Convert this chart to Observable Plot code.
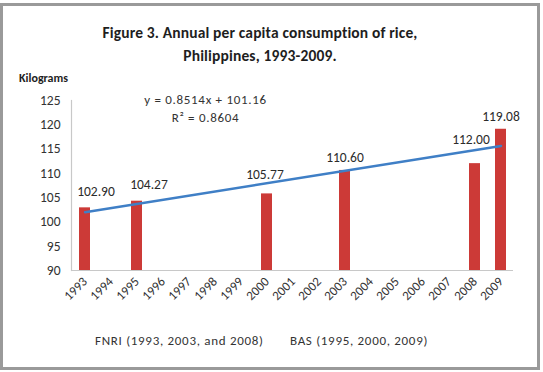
<!DOCTYPE html>
<html>
<head>
<meta charset="utf-8">
<script src="https://cdn.jsdelivr.net/npm/d3@7"></script>
<script src="https://cdn.jsdelivr.net/npm/@observablehq/plot@0.6"></script>
<style>
  html, body { margin: 0; padding: 0; background: #fff; }
  body { width: 543px; height: 372px; position: relative; overflow: hidden;
         font-family: Carlito, Lato, "Open Sans", sans-serif; color: #2b2b2b; }
  .frame { position: absolute; left: 0; top: 3px; width: 534px; height: 361px;
           border: 3px solid #9a9a9a; box-sizing: content-box; }
  .title { position: absolute; left: 0; width: 520px; top: 21px; text-align: center;
           font-weight: bold; font-size: 15.5px; line-height: 23px; color: #1e1e1e;
           letter-spacing: 0.15px; }
  .unit { position: absolute; left: 19px; top: 71px; font-weight: bold; font-size: 12px; color: #1e1e1e; }
  .note { position: absolute; top: 333px; font-size: 13px; letter-spacing: 0.7px; color: #333; }
  #chart { position: absolute; left: 0; top: 0; }
</style>
</head>
<body>
<div class="frame"></div>
<div class="title">Figure 3. Annual per capita consumption of rice,<br>Philippines, 1993-2009.</div>
<div class="unit">Kilograms</div>
<div class="note" style="left:95px">FNRI (1993, 2003, and 2008)</div>
<div class="note" style="left:290px">BAS (1995, 2000, 2009)</div>
<div id="chart"></div>
<script>
// Survey years on the category axis
const years = ["1993","1994","1995","1996","1997","1998","1999","2000","2001",
               "2002","2003","2004","2005","2006","2007","2008","2009"];
// Years with a survey value (FNRI and BAS)
const surveyYears = ["1993","1995","2000","2003","2008","2009"];
const consumption = [102.90, 104.27, 105.77, 110.60, 112.00, 119.08];
// Linear trend as printed on the chart: y = 0.8514x + 101.16, x = category index
const trendSlope = 0.8514;
const trendIntercept = 101.16;
const trendR2 = "0.8604";
const yTicks = [90, 95, 100, 105, 110, 115, 120, 125];

const bars = surveyYears.map((year, i) => ({year, value: consumption[i]}));
const trend = [years[0], years[years.length - 1]].map(year => ({
  year, value: trendSlope * (years.indexOf(year) + 1) + trendIntercept
}));

// label placement tweaks (pixels), as the spreadsheet laid them out
const labelShift = {"1993": [11, -12], "1995": [12, -12], "2000": [-2, -15],
                    "2003": [0, -8], "2008": [-4, -20], "2009": [0, -8]};

const chart = Plot.plot({
  width: 543,
  height: 372,
  marginLeft: 71,
  marginRight: 30,
  marginTop: 100,
  marginBottom: 102,
  style: {fontFamily: "Carlito, Lato, 'Open Sans', sans-serif", color: "#333", background: "transparent"},
  x: {type: "band", domain: years, paddingInner: 0.58, paddingOuter: 0.29, label: null},
  y: {domain: [90, 125], label: null},
  marks: [
    Plot.axisY({ticks: yTicks, tickSize: 0, tickPadding: 11, fontSize: 13.5, label: null}),
    Plot.axisX({tickSize: 0, tickPadding: 9, tickRotate: -45, fontSize: 13, label: null}),
    Plot.frame({anchor: "left", stroke: "#c8c8c8", strokeWidth: 1.2}),
    Plot.ruleY([90], {stroke: "#c8c8c8", strokeWidth: 1.2}),
    Plot.barY(bars, {x: "year", y1: 90, y2: "value", fill: "#cc3a37"}),
    Plot.line(trend, {x: "year", y: "value", stroke: "#3f7fc6", strokeWidth: 2.5}),
    ...bars.map(d => Plot.text([d], {
      x: "year", y: "value", text: v => v.value.toFixed(2),
      lineAnchor: "bottom", dx: labelShift[d.year][0], dy: labelShift[d.year][1],
      fontSize: 13.5, fill: "#2b2b2b"
    })),
    Plot.text([`y = ${trendSlope}x + ${trendIntercept}`], {
      frameAnchor: "top-left", dx: 134, dy: -1, lineAnchor: "middle", textAnchor: "middle",
      fontSize: 13, fill: "#333"
    }),
    Plot.text([`R² = ${trendR2}`], {
      frameAnchor: "top-left", dx: 134, dy: 17, lineAnchor: "middle", textAnchor: "middle",
      fontSize: 13, fill: "#333"
    })
  ]
});
chart.querySelectorAll("text").forEach(t => {
  if (t.textContent.startsWith("y =") || t.textContent.startsWith("R²")) t.style.letterSpacing = "0.7px";
});
document.getElementById("chart").appendChild(chart);
</script>
</body>
</html>
